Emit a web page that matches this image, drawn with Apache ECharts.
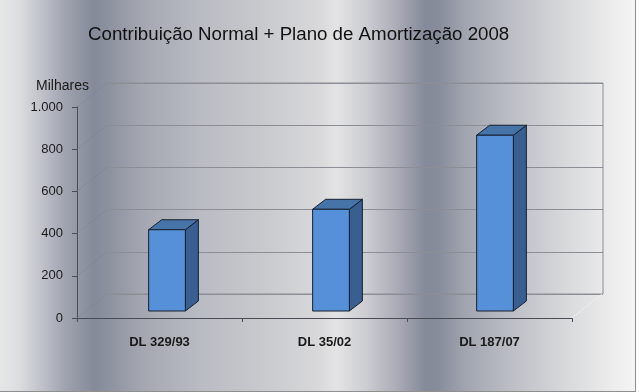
<!DOCTYPE html>
<html>
<head>
<meta charset="utf-8">
<script src="https://cdn.jsdelivr.net/npm/echarts@6/dist/echarts.min.js"></script>
<style>
  html, body { margin: 0; padding: 0; background: #fff; }
  #chart { width: 639px; height: 392px; }
</style>
</head>
<body>
<div id="chart"></div>
<script>
// Data
const chartTitle = 'Contribuição Normal + Plano de Amortização 2008';
const unitLabel = 'Milhares';
const categories = ['DL 329/93', 'DL 35/02', 'DL 187/07'];
const values = [385, 482, 833];
const yTicks = [0, 200, 400, 600, 800, 1000];

// 3D look: offset of back wall vs front plane, and of bar depth
const WALL_DX = 30, WALL_DY = -24;
const BAR_DX = 13, BAR_DY = -10;
const FONT = 'Arial, "Liberation Sans", sans-serif';
const FRAME_W = 635; // the metallic panel stops a few px before the right edge

const fmtThousands = (v) => String(v).replace(/\B(?=(\d{3})+(?!\d))/g, '.');

// Faint lines on the left wall (and right edge of the floor)
function renderWall(params, api) {
  const cs = params.coordSys;
  const y = api.coord([0, api.value(1)])[1];
  const children = [{
    type: 'line',
    shape: { x1: cs.x, y1: y, x2: cs.x + WALL_DX, y2: y + WALL_DY },
    style: { stroke: 'rgba(120,122,135,0.35)', lineWidth: 1 }
  }];
  if (api.value(1) === 0) {
    const xr = cs.x + cs.width;
    children.push({
      type: 'line',
      shape: { x1: xr, y1: y, x2: xr + WALL_DX, y2: y + WALL_DY },
      style: { stroke: 'rgba(240,240,242,0.9)', lineWidth: 1 }
    });
  }
  return { type: 'group', children };
}

// Box-shaped column with front, side and top faces
function renderBar(params, api) {
  const top = api.coord([api.value(0), api.value(1)]);
  const base = api.coord([api.value(0), 0]);
  const w = api.size([1, 0])[0] * 0.224;
  const l = top[0] - w / 2, r = top[0] + w / 2;
  const edge = { stroke: '#16202e', lineWidth: 1, lineJoin: 'round' };
  return {
    type: 'group',
    children: [
      {
        type: 'polygon',
        shape: { points: [[r, top[1]], [r + BAR_DX, top[1] + BAR_DY], [r + BAR_DX, base[1] + BAR_DY], [r, base[1]]] },
        style: Object.assign({ fill: '#385f8f' }, edge)
      },
      {
        type: 'polygon',
        shape: { points: [[l, top[1]], [l + BAR_DX, top[1] + BAR_DY], [r + BAR_DX, top[1] + BAR_DY], [r, top[1]]] },
        style: Object.assign({ fill: '#4673a8' }, edge)
      },
      {
        type: 'rect',
        shape: { x: l, y: top[1], width: w, height: base[1] - top[1] },
        style: Object.assign({ fill: '#5690d8' }, edge)
      }
    ]
  };
}

const bgStops = [
  [0.00, '#e6e6e6'], [0.03, '#dcdde0'], [0.078, '#b5b8c2'], [0.105, '#9ea2ae'],
  [0.148, '#858a99'], [0.175, '#8e93a0'], [0.22, '#a3a6b0'], [0.313, '#b9bbc3'],
  [0.418, '#c9cace'], [0.50, '#d8d8da'], [0.53, '#e3e3e4'], [0.58, '#cacbd0'],
  [0.626, '#a9abb6'], [0.67, '#848a99'], [0.69, '#868c9a'], [0.735, '#a2a6b0'],
  [0.814, '#bfc1c8'], [0.892, '#d8d9db'], [0.97, '#eeeeee'], [1.00, '#f4f4f4']
].map(([offset, color]) => ({ offset, color }));

const chart = echarts.init(document.getElementById('chart'));
chart.setOption({
  animation: false,
  backgroundColor: '#ffffff',
  title: {
    text: chartTitle,
    left: 88,
    top: 25,
    padding: 0,
    textStyle: { fontFamily: FONT, fontSize: 18.7, fontWeight: 'normal', color: '#111' }
  },
  grid: [
    { left: 77, top: 107, width: 495, height: 211 },
    { left: 107, top: 83, width: 496, height: 211, show: true, borderColor: '#8d8e95', borderWidth: 1, backgroundColor: 'transparent' },
    { left: 85, top: 100, width: 492, height: 211 }
  ],
  xAxis: [
    {
      gridIndex: 0, type: 'category', data: categories,
      axisLine: { lineStyle: { color: '#4a4c55', width: 1 } },
      axisTick: { show: true, length: 4, lineStyle: { color: '#4a4c55' } },
      axisLabel: { margin: 18, fontFamily: FONT, fontSize: 13, fontWeight: 'bold', color: '#1a1a1a' }
    },
    { gridIndex: 1, type: 'category', data: categories, show: false },
    { gridIndex: 2, type: 'category', data: categories, show: false }
  ],
  yAxis: [
    {
      gridIndex: 0, type: 'value', min: 0, max: 1000, interval: 200,
      name: unitLabel, nameLocation: 'end', nameGap: 14,
      nameTextStyle: { fontFamily: FONT, fontSize: 14, color: '#1a1a1a', align: 'center', padding: [0, 29, 0, 0] },
      axisLine: { show: true, lineStyle: { color: '#4a4c55', width: 1 } },
      axisTick: { show: true, length: 5, lineStyle: { color: '#4a4c55' } },
      axisLabel: { margin: 14, fontFamily: FONT, fontSize: 13, color: '#1a1a1a', formatter: fmtThousands },
      splitLine: { show: false }
    },
    {
      gridIndex: 1, type: 'value', min: 0, max: 1000, interval: 200,
      axisLine: { show: false }, axisTick: { show: false }, axisLabel: { show: false },
      splitLine: { show: true, lineStyle: { color: '#8d8e95', width: 1 } }
    },
    { gridIndex: 2, type: 'value', min: 0, max: 1000, show: false }
  ],
  graphic: [
    {
      type: 'rect', silent: true, z: -10,
      shape: { x: 0, y: 0, width: FRAME_W, height: 391 },
      style: { fill: new echarts.graphic.LinearGradient(0, 0, 1, 0, bgStops) }
    },
    { type: 'line', silent: true, z: -9, shape: { x1: FRAME_W + 0.5, y1: 0, x2: FRAME_W + 0.5, y2: 392 }, style: { stroke: '#8f8f8f', lineWidth: 1 } },
    { type: 'line', silent: true, z: -9, shape: { x1: 0, y1: 391.5, x2: FRAME_W + 1, y2: 391.5 }, style: { stroke: '#8f8f8f', lineWidth: 1 } }
  ],
  series: [
    {
      type: 'custom', name: 'wall', xAxisIndex: 0, yAxisIndex: 0, silent: true, z: 1,
      renderItem: renderWall,
      data: yTicks.map(t => [0, t])
    },
    {
      type: 'custom', name: unitLabel, xAxisIndex: 2, yAxisIndex: 2, z: 5,
      renderItem: renderBar,
      data: values.map((v, i) => [i, v])
    }
  ]
});
</script>
</body>
</html>
